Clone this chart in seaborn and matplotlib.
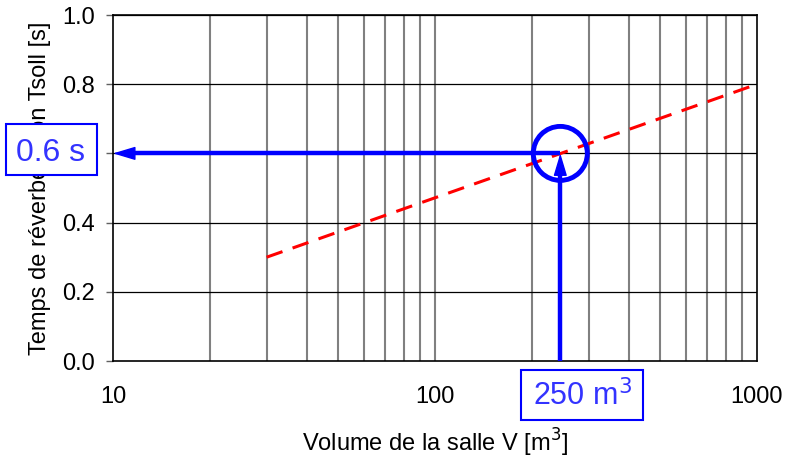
import matplotlib
matplotlib.use("Agg")
import matplotlib.pyplot as plt
import matplotlib.transforms as mtransforms
from matplotlib.patches import Circle, Rectangle
import seaborn as sns
import pandas as pd

sns.set_theme(style="white")
plt.rcParams['font.family'] = ['Liberation Sans', 'DejaVu Sans']

# Data
volume = [30, 1000]
t_soll = [0.3, 0.8]
target_volume = 245
target_time = 0.6
x_ticks = [10, 100, 1000]
x_tick_labels = ["10", "100", "1000"]
y_ticks = [0.0, 0.2, 0.4, 0.6, 0.8, 1.0]
y_tick_labels = ["0.0", "0.2", "0.4", "0.6", "0.8", "1.0"]
minor_x = [20, 30, 40, 50, 60, 70, 80, 90, 100, 200, 300, 400, 500, 600, 700, 800, 900]

df = pd.DataFrame({"V": volume, "T": t_soll})

W, H = 786, 461
fig = plt.figure(figsize=(W / 100, H / 100), dpi=100)
ax = fig.add_axes([113 / W, 100 / H, 644 / W, 346 / H])

ax.set_xscale("log")
ax.set_xlim(10, 1000)
ax.set_ylim(0, 1.0)

BLUE = "#0000ff"

# grid
for m in minor_x:
    ax.axvline(m, color="#808080", lw=1.5, zorder=1)
for yv in y_ticks[1:]:
    ax.axhline(yv, color="black", lw=0.9, zorder=1)

sns.lineplot(data=df, x="V", y="T", ax=ax, color="#ff0000", lw=2.2,
             linestyle=(0, (5.5, 3.5)), zorder=3)

# reading lines
ax.plot([target_volume, target_volume], [0, target_time - 0.055], color=BLUE, lw=3.2,
        solid_capstyle="butt", zorder=4)
ax.plot([target_volume, 11.3], [target_time, target_time], color=BLUE, lw=3.2,
        solid_capstyle="butt", zorder=4)
head = dict(arrowstyle="-|>,head_length=1.4,head_width=0.42", color=BLUE, lw=1,
            shrinkA=0, shrinkB=0, mutation_scale=10)
ax.annotate("", xy=(target_volume, target_time), xytext=(target_volume, target_time - 0.1),
            arrowprops=head, zorder=5)
ax.annotate("", xy=(10, target_time), xytext=(13, target_time),
            arrowprops=head, zorder=5)

# circle around the reading point
fig.canvas.draw()
cx, cy = ax.transData.transform((target_volume, target_time))
ax.add_artist(Circle((cx, cy), radius=27, transform=mtransforms.IdentityTransform(),
                     fill=False, edgecolor=BLUE, lw=3.5, zorder=6))

ax.set_xticks(x_ticks)
ax.set_xticklabels(x_tick_labels)
ax.xaxis.set_minor_locator(matplotlib.ticker.NullLocator())
ax.set_yticks(y_ticks)
ax.set_yticklabels(y_tick_labels)
ax.tick_params(axis="x", length=0, pad=18, labelsize=17, labelcolor="black")
ax.tick_params(axis="y", length=5, width=1, color="#606060", left=True, pad=8,
               labelsize=17, labelcolor="black")

for s in ax.spines.values():
    s.set_color("black")
    s.set_linewidth(1.2)

ax.set_xlabel("Volume de la salle V [m$^3$]", fontsize=17, color="black")
ax.xaxis.set_label_coords(0.5, (9 - 100) / 346)
ax.xaxis.label.set_va("baseline")
ax.set_ylabel("Temps de réverbération Tsoll [s]", fontsize=17, color="black")
ax.yaxis.set_label_coords((40 - 113) / 644, 0.5)
ax.yaxis.label.set_va("center")

# value boxes
fig.add_artist(Rectangle((6 / W, (H - 175) / H), 91 / W, 51 / H, transform=fig.transFigure,
                         fc="white", ec=BLUE, lw=1.5, zorder=5))
fig.text(50.5 / W, (H - 161) / H, "0.6 s", fontsize=23, color="#3333ff", ha="center",
         va="baseline", zorder=6)
fig.add_artist(Rectangle((521 / W, (H - 420) / H), 122 / W, 50 / H, transform=fig.transFigure,
                         fc="white", ec=BLUE, lw=1.5, zorder=5))
fig.text(582 / W, (H - 405) / H, "250 m$^3$", fontsize=22, color="#3333ff", ha="center",
         va="baseline", zorder=6)

fig.savefig("out.png", dpi=100)
